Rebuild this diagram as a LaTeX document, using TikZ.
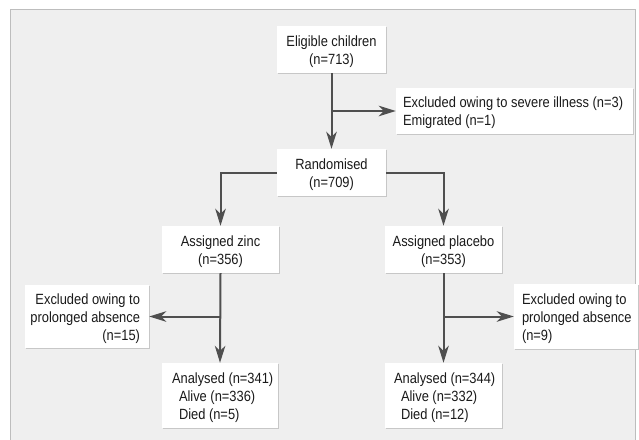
\documentclass[tikz,border=0pt]{standalone}
\usepackage{fontspec}
\setmainfont{Liberation Sans}[FakeStretch=0.87]
\usetikzlibrary{arrows.meta,shadows}
\definecolor{framebg}{HTML}{EFEFEF}
\definecolor{frameln}{HTML}{BDBDBD}
\definecolor{conn}{HTML}{4F4F4F}
\definecolor{txt}{HTML}{1A1A1A}
\newcommand{\lowr}[1]{\raisebox{-2.2pt}[\height][\depth]{#1}}
\newcommand{\linesL}[2]{\lowr{\makebox[#1][l]{\begin{tabular}{@{}l@{}}#2\end{tabular}}}}
\newcommand{\linesR}[2]{\lowr{\makebox[#1][r]{\begin{tabular}{@{}r@{}}#2\end{tabular}}}}
\newcommand{\linesC}[1]{\lowr{\begin{tabular}{@{}c@{}}#1\end{tabular}}}
\tikzset{
  box/.style={fill=white, inner sep=0pt, text=txt, font=\fontsize{14.8}{17.8}\selectfont,
    drop shadow={shadow xshift=1.2pt, shadow yshift=-1.2pt, fill=black!22, opacity=1}},
  link/.style={draw=conn, line width=2pt, -{Stealth[length=17pt,width=10.5pt,inset=5pt]}}
}
\begin{document}
\begin{tikzpicture}[x=1pt,y=-1pt]
\useasboundingbox (0,0) rectangle (639,439);
\fill[white] (0,0) rectangle (639,439);
\draw[fill=framebg, draw=frameln, line width=1pt] (10.5,9.5) rectangle (635,460);

\node[box, minimum width=109pt, minimum height=47pt] (elig) at (331.5,49.5) {\linesC{Eligible children\\(n=713)}};
\node[box, minimum width=237pt, minimum height=46pt] (ex1) at (514.5,111) {\linesL{223pt}{Excluded owing to severe illness (n=3)\\Emigrated (n=1)}};
\node[box, minimum width=109pt, minimum height=47pt] (rand) at (331.5,172.5) {\linesC{Randomised\\(n=709)}};
\node[box, minimum width=117pt, minimum height=47pt] (zinc) at (220.5,249.5) {\linesC{Assigned zinc\\(n=356)}};
\node[box, minimum width=117pt, minimum height=47pt] (plac) at (443.5,249.5) {\linesC{Assigned placebo\\(n=353)}};
\node[box, minimum width=124pt, minimum height=63pt] (exz) at (87,316.5) {\linesR{106pt}{Excluded owing to\\prolonged absence\\(n=15)}};
\node[box, minimum width=124pt, minimum height=65pt] (exp) at (576,316.5) {\linesL{108pt}{Excluded owing to\\prolonged absence\\(n=9)}};
\node[box, minimum width=116pt, minimum height=65pt] (anz) at (220,395.5) {\linesL{96pt}{Analysed (n=341)\\\hspace*{7pt}Alive (n=336)\\\hspace*{7pt}Died (n=5)}};
\node[box, minimum width=117pt, minimum height=65pt] (anp) at (443.5,395.5) {\linesL{99pt}{Analysed (n=344)\\\hspace*{7pt}Alive (n=332)\\\hspace*{7pt}Died (n=12)}};

\coordinate (b1) at (elig.south |- ex1.west);
\coordinate (bz) at (zinc.south |- exz.east);
\coordinate (bp) at (plac.south |- exp.west);

\draw[link] (elig.south) -- (rand.north);
\draw[link] (b1) -- (ex1.west);
\draw[link] (rand.west) -| (zinc.north);
\draw[link] (rand.east) -| (plac.north);
\draw[link] (zinc.south) -- (anz.north);
\draw[link] (bz) -- (exz.east);
\draw[link] (plac.south) -- (anp.north);
\draw[link] (bp) -- (exp.west);
\end{tikzpicture}
\end{document}
